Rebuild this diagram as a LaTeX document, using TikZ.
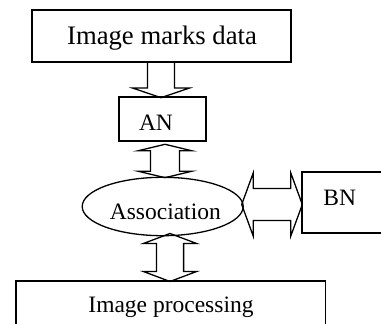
\documentclass[tikz,border=0pt]{standalone}
\usepackage{fontspec}
\setmainfont{Liberation Serif}
\usetikzlibrary{shapes.geometric,calc}
% vertical double block arrow: #1 top tip, #2 bottom tip, #3 shaft half width, #4 head half width, #5 head length
\newcommand\VDArrow[5]{%
  \draw[arr] let \p1=(#1), \p2=(#2) in
   (\x1,\y1) -- (\x1+#4pt,\y1-#5pt) -- (\x1+#3pt,\y1-#5pt) -- (\x1+#3pt,\y2+#5pt)
   -- (\x1+#4pt,\y2+#5pt) -- (\x1,\y2) -- (\x1-#4pt,\y2+#5pt) -- (\x1-#3pt,\y2+#5pt)
   -- (\x1-#3pt,\y1-#5pt) -- (\x1-#4pt,\y1-#5pt) -- cycle;}
% horizontal double block arrow: #1 left tip, #2 right tip
\newcommand\HDArrow[5]{%
  \draw[arr] let \p1=(#1), \p2=(#2) in
   (\x1,\y1) -- (\x1+#5pt,\y1+#4pt) -- (\x1+#5pt,\y1+#3pt) -- (\x2-#5pt,\y1+#3pt)
   -- (\x2-#5pt,\y1+#4pt) -- (\x2,\y1) -- (\x2-#5pt,\y1-#4pt) -- (\x2-#5pt,\y1-#3pt)
   -- (\x1+#5pt,\y1-#3pt) -- (\x1+#5pt,\y1-#4pt) -- cycle;}
% single downward block arrow: #1 shaft top centre, #2 tip
\newcommand\SDArrow[5]{%
  \draw[arr] let \p1=(#1), \p2=(#2) in
   (\x1-#3pt,\y1) -- (\x1-#3pt,\y2+#5pt) -- (\x1-#4pt,\y2+#5pt) -- (\x1,\y2)
   -- (\x1+#4pt,\y2+#5pt) -- (\x1+#3pt,\y2+#5pt) -- (\x1+#3pt,\y1);}
\begin{document}
\begin{tikzpicture}[x=1pt,y=-1pt,
  box/.style={draw, line width=1.8pt, rectangle, inner sep=0pt},
  arr/.style={draw, line width=1.3pt},
  lbl/.style={anchor=base, inner sep=0pt, font=\fontsize{23.5}{28}\selectfont},
  biglbl/.style={anchor=base, inner sep=0pt, font=\fontsize{26.7}{32}\selectfont}]
\useasboundingbox (0,0) rectangle (381,324);
\clip (0,0) rectangle (381,324);
% boxes
\node[box, minimum width=259pt, minimum height=52pt] (top) at (161.5,36) {};
\node[box, minimum width=87pt, minimum height=44pt] (an) at (162.5,119) {};
\node[draw, ellipse, line width=1.3pt, inner sep=0pt, minimum width=161pt, minimum height=58.4pt] (assoc) at (162.7,206.5) {};
\node[box, minimum width=120pt, minimum height=60.4pt] (bn) at (362.3,202.5) {};
\node[box, minimum width=309.5pt, minimum height=59pt] (proc) at (170.75,310.5) {};
% texts
\node[biglbl] (ttop) at (162,45) {Image marks data};
\node[lbl] (tan) at (156,130) {AN};
\node[lbl] (tassoc) at (165.3,219) {Association};
\node[lbl] (tbn) at (339.7,205) {BN};
\node[lbl] (tproc) at (171,312) {Image processing};
% connector end points
\coordinate (a1s) at (161,0 |- top.south);
\coordinate (a1e) at (161,97.7);
\coordinate (a2s) at (165,144.3);
\coordinate (a2e) at (165,177.7);
\coordinate (a3s) at (170,233.5);
\coordinate (a3e) at (170,281.5);
\coordinate (a4s) at (241.7,204.5);
\coordinate (a4e) at (302.3,204.5);
% connectors
\SDArrow{a1s}{a1e}{13.5}{28.5}{9.7}
\VDArrow{a2s}{a2e}{14.5}{27}{6.5}
\VDArrow{a3s}{a3e}{13.6}{26.6}{10}
\HDArrow{a4s}{a4e}{16}{31.5}{11.5}
\end{tikzpicture}
\end{document}
